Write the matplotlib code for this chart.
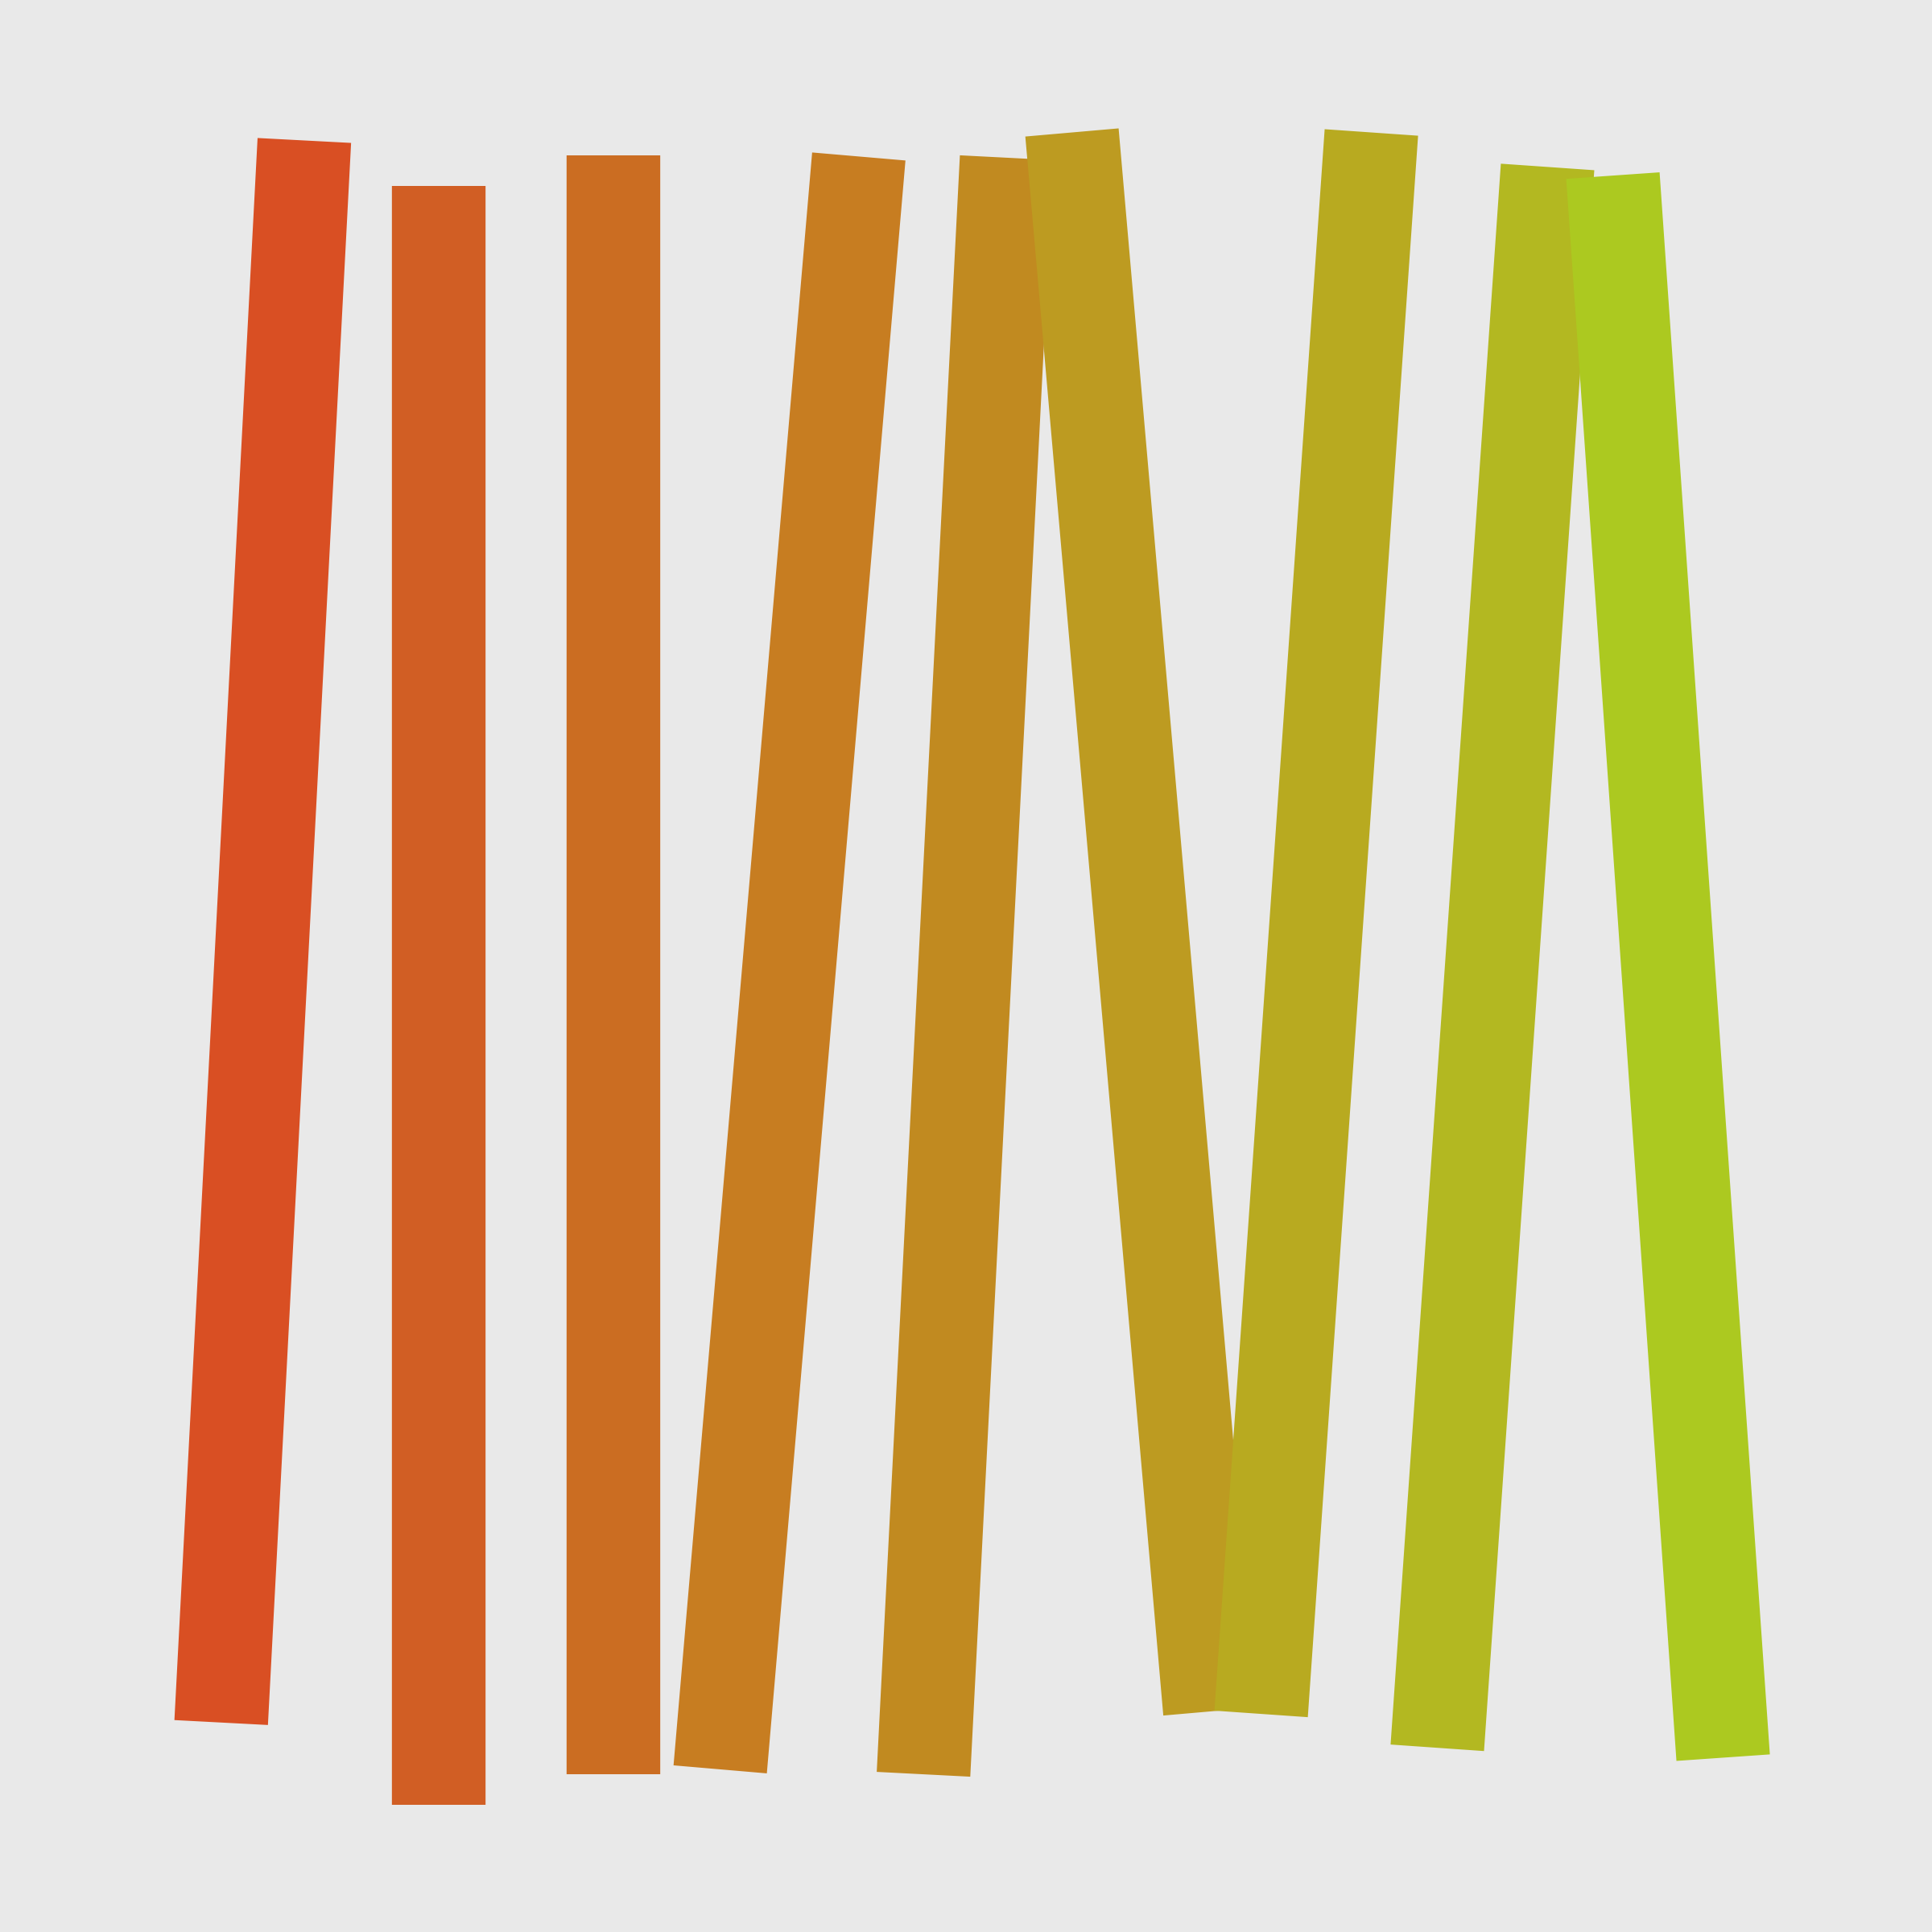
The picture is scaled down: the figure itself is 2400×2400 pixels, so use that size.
import matplotlib.pyplot as plt

# stroke endpoints (centre line), in picture units of a 1568 x 1568 canvas
x_top = [247, 356, 498, 697, 817, 870, 1113, 1256, 1309]
y_top = [114, 151, 126, 127, 128, 107.5, 107.5, 135.5, 142.5]
x_bottom = [179.5, 356, 498, 584.5, 749.5, 982, 1023.5, 1166.5, 1398.5]
y_bottom = [1398, 1465, 1440, 1436, 1440, 1389, 1391, 1418.5, 1426.5]
colors = ['#D94F23', '#D15E24', '#CB6D22', '#C77D21', '#C18A20',
          '#BD9B21', '#B8AA20', '#B3B821', '#ACC920']

canvas = 1568
bg = '#E9E9E9'

fig = plt.figure(figsize=(8, 8), dpi=300, facecolor=bg)
ax = fig.add_axes([0, 0, 1, 1])
ax.set_facecolor(bg)
ax.set_xlim(0, canvas)
ax.set_ylim(canvas, 0)
ax.axis('off')

# 76 canvas units wide strokes
lw = 76 * 8 * 72 / canvas
for xt, yt, xb, yb, c in zip(x_top, y_top, x_bottom, y_bottom, colors):
    ax.plot([xt, xb], [yt, yb], color=c, lw=lw, solid_capstyle='butt')

fig.savefig('out.png', dpi=300, facecolor=bg)
